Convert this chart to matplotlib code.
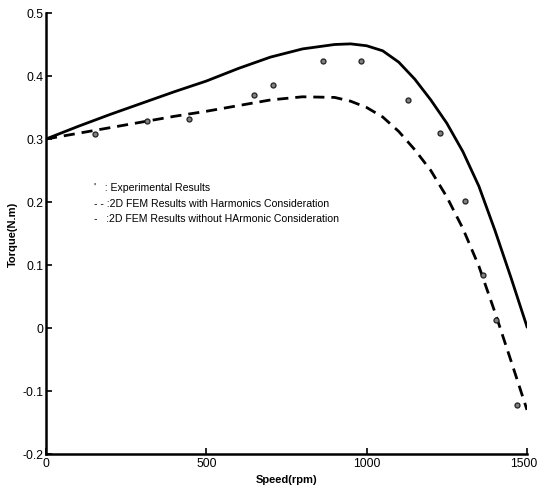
import matplotlib
matplotlib.use("Agg")
import matplotlib.pyplot as plt
import matplotlib.transforms as mtransforms
from matplotlib.ticker import FuncFormatter

# ---- data ----
exp_speed = [153, 315, 446, 649, 708, 864, 982, 1129, 1229, 1307, 1363, 1403, 1469]
exp_torque = [0.308, 0.329, 0.332, 0.370, 0.385, 0.424, 0.424, 0.362, 0.310, 0.202, 0.084, 0.013, -0.122]

fem_speed = [0, 100, 200, 300, 400, 500, 600, 700, 800, 900, 950, 1000, 1050,
             1100, 1150, 1200, 1250, 1300, 1350, 1400, 1450, 1500]
no_harm = [0.300, 0.320, 0.339, 0.357, 0.375, 0.392, 0.412, 0.430, 0.443, 0.450, 0.451,
           0.448, 0.440, 0.422, 0.395, 0.362, 0.325, 0.280, 0.225, 0.155, 0.080, 0.002]
with_harm = [0.300, 0.309, 0.318, 0.327, 0.336, 0.344, 0.353, 0.362, 0.367, 0.366, 0.360,
             0.350, 0.335, 0.312, 0.283, 0.250, 0.208, 0.158, 0.098, 0.025, -0.052, -0.130]

x_ticks = [0, 500, 1000, 1500]
y_ticks = [-0.2, -0.1, 0, 0.1, 0.2, 0.3, 0.4, 0.5]

legend_lines = ["'   : Experimental Results",
                "- - :2D FEM Results with Harmonics Consideration",
                "-   :2D FEM Results without HArmonic Consideration"]

plt.rcParams['font.family'] = ['Liberation Sans', 'DejaVu Sans']

W, H = 539, 489
fig = plt.figure(figsize=(W / 100, H / 100), dpi=100)
ax = fig.add_axes([46 / W, 1 - 455 / H, (527 - 46) / W, (455 - 14) / H])

ax.plot(fem_speed, no_harm, color='black', lw=2.0, solid_joinstyle='round')
ax.plot(fem_speed, with_harm, color='black', lw=2.0, dashes=(4, 2.5))
ax.plot(exp_speed, exp_torque, linestyle='none', marker='o', markersize=3.6,
        markerfacecolor='#808080', markeredgecolor='#222222', markeredgewidth=0.9)

ax.set_xlim(0, 1500)
ax.set_ylim(-0.2, 0.5)
ax.set_xticks(x_ticks)
ax.set_yticks(y_ticks)
ax.yaxis.set_major_formatter(FuncFormatter(lambda v, p: '%g' % round(v, 3)))
ax.xaxis.set_major_formatter(FuncFormatter(lambda v, p: '%g' % v))

for s in ['top', 'right']:
    ax.spines[s].set_visible(False)
for s in ['left', 'bottom']:
    ax.spines[s].set_linewidth(1.8)
ax.tick_params(direction='in', length=4, width=1.2, labelsize=8.8, pad=2)

fig.canvas.draw()
last = ax.get_xticklabels()[-1]
last.set_transform(last.get_transform() +
                   mtransforms.ScaledTranslation(-3 / 100, 0, fig.dpi_scale_trans))

ax.set_xlabel('Speed(rpm)', fontsize=8, fontweight='bold', labelpad=4)
ax.set_ylabel('Torque(N.m)', fontsize=8, fontweight='bold', labelpad=3)

ys = [188, 204, 219]
for t, yp in zip(legend_lines, ys):
    fig.text(94 / W, 1 - yp / H, t, fontsize=7.6, va='center', ha='left')

fig.savefig('out.png', dpi=100)
